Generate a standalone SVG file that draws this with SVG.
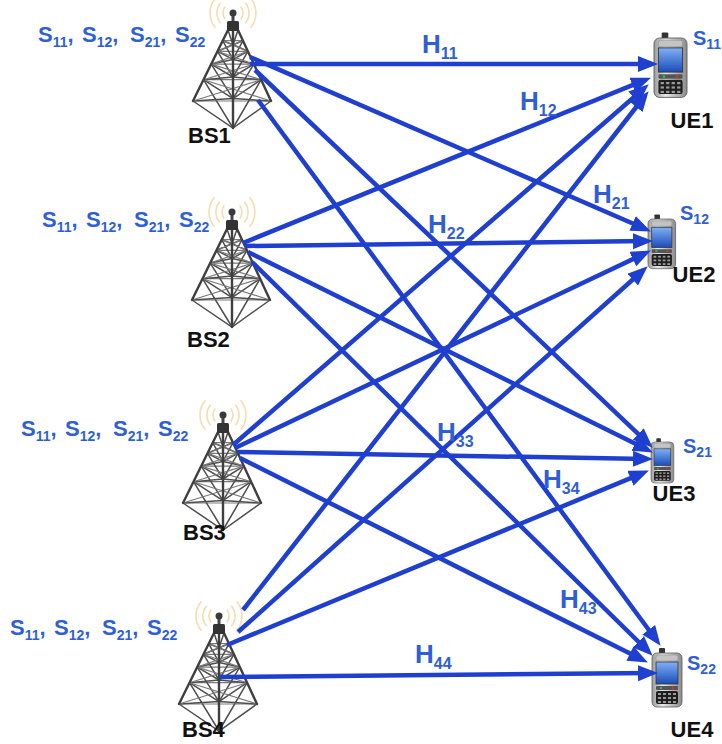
<svg xmlns="http://www.w3.org/2000/svg" xmlns:xlink="http://www.w3.org/1999/xlink" width="722" height="744" viewBox="0 0 722 744">
  <style>
    .slbl { font-family: "Liberation Sans", Arial, sans-serif; font-weight: bold; font-size: 22px; fill: #2f5fd6; }
    .slbl .sub { font-size: 14px; }
    .uslbl { font-family: "Liberation Sans", Arial, sans-serif; font-weight: bold; font-size: 20px; fill: #2f5fd6; }
    .uslbl .sub { font-size: 14px; }
    .hlbl { font-family: "Liberation Sans", Arial, sans-serif; font-weight: bold; font-size: 26px; fill: #2f5fd6; }
    .hlbl .sub { font-size: 16px; }
    .name { font-family: "Liberation Sans", Arial, sans-serif; font-weight: bold; font-size: 22px; fill: #111; }
    .link { stroke: #1e3fcf; stroke-width: 4.5; fill: none; marker-end: url(#arrow); }
    .leg { stroke: #3f3f3f; stroke-width: 2.4; fill: none; stroke-linecap: round; }
    .brace { stroke: #4e4e4e; stroke-width: 1.5; fill: none; }
    .back { stroke: #7a7a7a; stroke-width: 1.2; fill: none; }
    .wave { stroke: #f6cf95; stroke-width: 1.6; fill: none; opacity: 0.75; }
  </style>
  <defs>
    <marker id="arrow" markerUnits="userSpaceOnUse" markerWidth="22" markerHeight="18" refX="14" refY="8" orient="auto">
      <path d="M0,0 L20,8 L0,16 z" fill="#1e3fcf"/>
    </marker>
    <linearGradient id="phoneBody" x1="0" y1="0" x2="1" y2="0">
      <stop offset="0" stop-color="#9a9a9a"/>
      <stop offset="0.35" stop-color="#e8e8e8"/>
      <stop offset="1" stop-color="#8c8c8c"/>
    </linearGradient>
    <linearGradient id="phoneScreen" x1="0" y1="0" x2="0" y2="1">
      <stop offset="0" stop-color="#7fb0f5"/>
      <stop offset="1" stop-color="#1c4cb8"/>
    </linearGradient>

    <!-- lattice tower, origin at the antenna ball -->
    <g id="tower">
      <path class="wave" d="M-7.7,-6.4 A10,10 0 0 0 -7.7,6.4 M7.7,-6.4 A10,10 0 0 1 7.7,6.4"/>
      <path class="wave" d="M-12.3,-10.3 A16,16 0 0 0 -12.3,10.3 M12.3,-10.3 A16,16 0 0 1 12.3,10.3"/>
      <path class="wave" d="M-17.6,-14.8 A23,23 0 0 0 -17.6,14.8 M17.6,-14.8 A23,23 0 0 1 17.6,14.8"/>
      <!-- back ties -->
      <path class="back" d="M-10.3,27.7 L10,27.7 M-15.5,38.3 L14.9,38.3 M-21.8,51.1 L20.8,51.1 M-29.5,66.7 L28.1,66.7 M-40,88 L38,88"/>
      <!-- front faces -->
      <path class="brace" d="M-10.3,27.7 L0,31.7 L10,27.7 M-15.5,38.3 L0,46.4 L14.9,38.3 M-21.8,51.1 L0,64 L20.8,51.1 M-29.5,66.7 L0,85.6 L28.1,66.7 M-40,88 L0,115 L38,88"/>
      <!-- cross bracing -->
      <path class="brace" d="M-5,17 L0,31.7 M5,17 L0,31.7 M-10.3,27.7 L0,46.4 M0,31.7 L-15.5,38.3 M10,27.7 L0,46.4 M0,31.7 L14.9,38.3 M-15.5,38.3 L0,64 M0,46.4 L-21.8,51.1 M14.9,38.3 L0,64 M0,46.4 L20.8,51.1 M-21.8,51.1 L0,85.6 M0,64 L-29.5,66.7 M20.8,51.1 L0,85.6 M0,64 L28.1,66.7 M-29.5,66.7 L0,115 M0,85.6 L-40,88 M28.1,66.7 L0,115 M0,85.6 L38,88"/>
      <path class="back" d="M-10.3,27.7 L14.9,38.3 M10,27.7 L-15.5,38.3 M-15.5,38.3 L20.8,51.1 M14.9,38.3 L-21.8,51.1 M-21.8,51.1 L28.1,66.7 M20.8,51.1 L-29.5,66.7 M-29.5,66.7 L38,88 M28.1,66.7 L-40,88"/>
      <!-- legs -->
      <path class="leg" d="M-5,17 L-40,88 M5,17 L38,88 M0,17 L0,115"/>
      <!-- antenna head -->
      <rect x="-1.5" y="0" width="3" height="10" fill="#444"/>
      <rect x="-6" y="8" width="12" height="10" rx="1.5" fill="#333"/>
      <circle cx="0" cy="0" r="3.5" fill="#3a3a3a"/>
    </g>

    <!-- handset, origin at top-left of the body -->
    <g id="phone">
      <rect x="7" y="-5" width="6" height="8" rx="1" fill="#333"/>
      <rect x="0" y="0" width="30" height="54" rx="5" fill="url(#phoneBody)" stroke="#5a5a5a" stroke-width="0.8"/>
      <rect x="4" y="2" width="22" height="6" rx="2" fill="#c4c4c4" stroke="#888" stroke-width="0.5"/>
      <rect x="4" y="9" width="22" height="22" fill="url(#phoneScreen)" stroke="#333" stroke-width="0.8"/>
      <rect x="4" y="33" width="22" height="4" rx="1" fill="#555"/>
      <circle cx="9" cy="35" r="1.2" fill="#2fbf4f"/>
      <circle cx="21" cy="35" r="1.2" fill="#e03030"/>
      <rect x="4" y="38" width="22" height="13" rx="2" fill="#1e1e1e"/>
      <g fill="#9a9a9a">
        <rect x="6" y="40" width="3" height="2"/><rect x="11" y="40" width="3" height="2"/><rect x="16" y="40" width="3" height="2"/><rect x="21" y="40" width="3" height="2"/>
        <rect x="6" y="44" width="3" height="2"/><rect x="11" y="44" width="3" height="2"/><rect x="16" y="44" width="3" height="2"/><rect x="21" y="44" width="3" height="2"/>
        <rect x="6" y="48" width="3" height="2"/><rect x="11" y="48" width="3" height="2"/><rect x="16" y="48" width="3" height="2"/><rect x="21" y="48" width="3" height="2"/>
      </g>
    </g>
  </defs>

  <rect width="722" height="744" fill="#ffffff"/>

  <!-- base stations -->
  <g id="bs1">
    <use xlink:href="#tower" href="#tower" transform="translate(233,13)"/>
    <text class="name" x="188" y="143">BS1</text>
    <text class="slbl" x="38" y="42">S<tspan class="sub" dy="5">11</tspan><tspan dy="-5">,</tspan></text>
    <text class="slbl" x="82" y="42">S<tspan class="sub" dy="5">12</tspan><tspan dy="-5">,</tspan></text>
    <text class="slbl" x="130" y="42">S<tspan class="sub" dy="5">21</tspan><tspan dy="-5">,</tspan></text>
    <text class="slbl" x="175" y="42">S<tspan class="sub" dy="5">22</tspan></text>
  </g>
  <g id="bs2">
    <use xlink:href="#tower" href="#tower" transform="translate(232,212)"/>
    <text class="name" x="187" y="347">BS2</text>
    <text class="slbl" x="42" y="227">S<tspan class="sub" dy="5">11</tspan><tspan dy="-5">,</tspan></text>
    <text class="slbl" x="86" y="227">S<tspan class="sub" dy="5">12</tspan><tspan dy="-5">,</tspan></text>
    <text class="slbl" x="134" y="227">S<tspan class="sub" dy="5">21</tspan><tspan dy="-5">,</tspan></text>
    <text class="slbl" x="179" y="227">S<tspan class="sub" dy="5">22</tspan></text>
  </g>
  <g id="bs3">
    <use xlink:href="#tower" href="#tower" transform="translate(223,415)"/>
    <text class="name" x="183" y="540">BS3</text>
    <text class="slbl" x="21" y="436">S<tspan class="sub" dy="5">11</tspan><tspan dy="-5">,</tspan></text>
    <text class="slbl" x="65" y="436">S<tspan class="sub" dy="5">12</tspan><tspan dy="-5">,</tspan></text>
    <text class="slbl" x="113" y="436">S<tspan class="sub" dy="5">21</tspan><tspan dy="-5">,</tspan></text>
    <text class="slbl" x="158" y="436">S<tspan class="sub" dy="5">22</tspan></text>
  </g>
  <g id="bs4">
    <use xlink:href="#tower" href="#tower" transform="translate(219,616)"/>
    <text class="name" x="182" y="737">BS4</text>
    <text class="slbl" x="10" y="635">S<tspan class="sub" dy="5">11</tspan><tspan dy="-5">,</tspan></text>
    <text class="slbl" x="54" y="635">S<tspan class="sub" dy="5">12</tspan><tspan dy="-5">,</tspan></text>
    <text class="slbl" x="102" y="635">S<tspan class="sub" dy="5">21</tspan><tspan dy="-5">,</tspan></text>
    <text class="slbl" x="147" y="635">S<tspan class="sub" dy="5">22</tspan></text>
  </g>

  <!-- user equipment -->
  <g id="ue1">
    <use xlink:href="#phone" href="#phone" transform="translate(654,38) scale(1.1)"/>
    <text class="name" x="692" y="128" text-anchor="middle">UE1</text>
    <text class="uslbl" x="693" y="45">S<tspan class="sub" dy="4">11</tspan></text>
  </g>
  <g id="ue2">
    <use xlink:href="#phone" href="#phone" transform="translate(648,219) scale(0.92)"/>
    <text class="name" x="694" y="282" text-anchor="middle">UE2</text>
    <text class="uslbl" x="680" y="220">S<tspan class="sub" dy="4">12</tspan></text>
  </g>
  <g id="ue3">
    <use xlink:href="#phone" href="#phone" transform="translate(651,442) scale(0.76)"/>
    <text class="name" x="674" y="501" text-anchor="middle">UE3</text>
    <text class="uslbl" x="683" y="453">S<tspan class="sub" dy="4">21</tspan></text>
  </g>
  <g id="ue4">
    <use xlink:href="#phone" href="#phone" transform="translate(652,653)"/>
    <text class="name" x="692" y="737" text-anchor="middle">UE4</text>
    <text class="uslbl" x="687" y="670">S<tspan class="sub" dy="4">22</tspan></text>
  </g>

  <!-- channel links -->
  <g id="links">
    <line class="link" x1="250" y1="64" x2="652" y2="64"/>
    <line class="link" x1="250" y1="57" x2="645.4" y2="229"/>
    <line class="link" x1="255" y1="70" x2="648.4" y2="443.6"/>
    <line class="link" x1="258" y1="100" x2="657" y2="641"/>

    <line class="link" x1="243" y1="243" x2="645.4" y2="79.9"/>
    <line class="link" x1="245" y1="246" x2="647" y2="241"/>
    <line class="link" x1="248" y1="252" x2="647.5" y2="449.8"/>
    <line class="link" x1="252" y1="262" x2="648.4" y2="651.5"/>

    <line class="link" x1="233" y1="445" x2="644.2" y2="88.3"/>
    <line class="link" x1="235" y1="448" x2="645.5" y2="253.1"/>
    <line class="link" x1="238" y1="452" x2="647" y2="459"/>
    <line class="link" x1="240" y1="458" x2="642.5" y2="659.8"/>

    <line class="link" x1="243" y1="610" x2="644.9" y2="96"/>
    <line class="link" x1="238" y1="632" x2="643.2" y2="270.3"/>
    <line class="link" x1="227" y1="645" x2="643.4" y2="472.9"/>
    <line class="link" x1="220" y1="677" x2="652" y2="673"/>
  </g>

  <!-- channel labels -->
  <g id="channel-labels">
    <text class="hlbl" x="422" y="53">H<tspan class="sub" dy="6">11</tspan></text>
    <text class="hlbl" x="520" y="110">H<tspan class="sub" dy="6">12</tspan></text>
    <text class="hlbl" x="593" y="203">H<tspan class="sub" dy="6">21</tspan></text>
    <text class="hlbl" x="428" y="233">H<tspan class="sub" dy="6">22</tspan></text>
    <text class="hlbl" x="437" y="441">H<tspan class="sub" dy="6">33</tspan></text>
    <text class="hlbl" x="543" y="488">H<tspan class="sub" dy="6">34</tspan></text>
    <text class="hlbl" x="560" y="608">H<tspan class="sub" dy="6">43</tspan></text>
    <text class="hlbl" x="415" y="663">H<tspan class="sub" dy="6">44</tspan></text>
  </g>
</svg>
